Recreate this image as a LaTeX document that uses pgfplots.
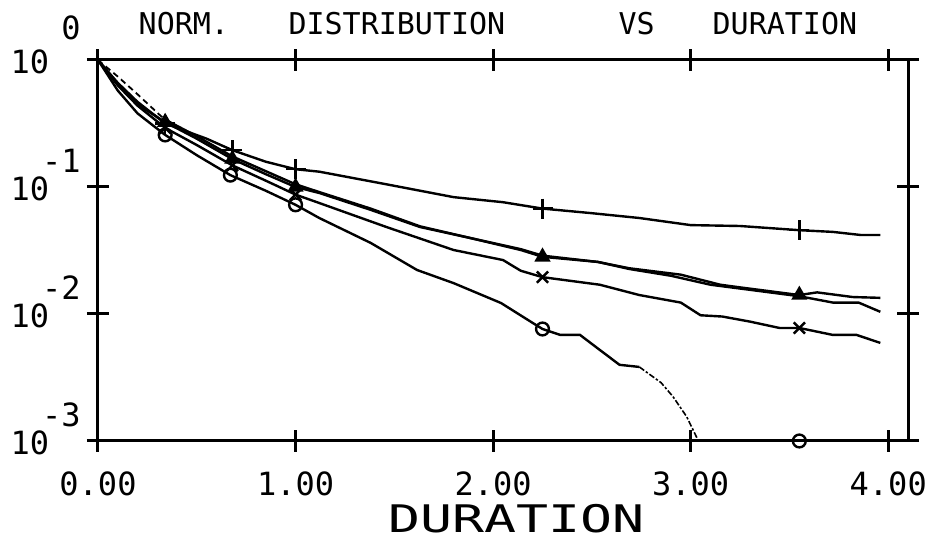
\documentclass[border=0pt]{standalone}
\usepackage{pgfplots}
\pgfplotsset{compat=1.18}
\usepackage{fontspec}
\setmainfont{DejaVu Sans Mono}
\newcommand\ylab[2][14pt]{\makebox[35pt][l]{10}\llap{\raisebox{#1}{#2}}}
\begin{document}
\begin{tikzpicture}
\begin{axis}[
  scale only axis, width=405pt, height=190.5pt,
  xmin=0, xmax=4.1, ymin=1e-3, ymax=1, ymode=log,
  axis line style={line width=1.5pt},
  clip mode=individual,
  tick align=center,
  major tick length=11pt,
  every tick/.style={black, line width=1.5pt},
  xtick={0,1,2,3,4}, xticklabels={0.00,1.00,2.00,3.00,4.00},
  ytick={1e-3,1e-2,1e-1,1},
  yticklabels={\ylab{-3},\ylab{-2},\ylab{-1},\ylab[17pt]{0}},
  yminorticks=false, xminorticks=false,
  xtick pos=both, ytick pos=both,
  xticklabel pos=lower, yticklabel pos=left,
  tick label style={font=\fontsize{16}{16}\selectfont},
  xticklabel style={anchor=base, inner sep=0pt, yshift=-22pt},
  yticklabel style={anchor=base east, inner sep=0pt, xshift=-3pt, yshift=-7pt},
  every axis plot/.append style={black, line width=1.2pt},
]
% + curve
\addplot[no marks] coordinates {(0,1)(0.1,0.661)(0.2,0.468)(0.34,0.316)(0.55,0.240)(0.68,0.195)(0.85,0.158)(1.0,0.138)(1.12,0.132)(1.46,0.105)(1.80,0.0832)(2.05,0.0759)(2.25,0.0676)(2.49,0.0624)(2.74,0.0570)(3.0,0.0501)(3.25,0.0493)(3.55,0.0457)(3.72,0.0443)(3.86,0.0419)(3.96,0.0419)};
\addplot[only marks, mark=+, mark size=5pt] coordinates {(0.34,0.316)(0.68,0.195)(1.0,0.138)(2.25,0.0676)(3.55,0.0457)};
% triangle curve
\addplot[no marks] coordinates {(0,1)(0.1,0.646)(0.2,0.447)(0.34,0.324)(0.5,0.240)(0.68,0.166)(0.85,0.126)(1.0,0.100)(1.12,0.0897)(1.38,0.0661)(1.63,0.0484)(1.88,0.0398)(2.14,0.0319)(2.25,0.0282)(2.53,0.0257)(2.69,0.0229)(2.95,0.0204)(3.15,0.0170)(3.25,0.0162)(3.55,0.0141)(3.64,0.0148)(3.82,0.0136)(3.96,0.0134)};
\addplot[only marks, mark=triangle*, mark size=3.5pt] coordinates {(0.34,0.324)(0.68,0.166)(1.0,0.100)(2.25,0.0282)(3.55,0.0141)};
% unmarked curve
\addplot[no marks, densely dashed, line width=0.9pt] coordinates {(0,1)(0.1,0.741)(0.2,0.537)(0.31,0.372)(0.34,0.339)};
\addplot[no marks] coordinates {(0.34,0.339)(0.5,0.251)(0.68,0.174)(1.0,0.105)(1.12,0.0912)(1.38,0.0676)(1.63,0.0490)(1.88,0.0398)(2.14,0.0324)(2.25,0.0288)(2.53,0.0257)(2.69,0.0226)(2.9,0.0200)(3.1,0.0170)(3.3,0.0155)(3.55,0.0138)(3.72,0.0123)(3.85,0.0123)(3.96,0.0104)};
% x curve
\addplot[no marks] coordinates {(0,1)(0.1,0.631)(0.2,0.437)(0.34,0.292)(0.5,0.214)(0.68,0.148)(0.85,0.112)(1.0,0.0871)(1.12,0.0748)(1.46,0.0484)(1.80,0.0319)(2.05,0.0266)(2.14,0.0219)(2.25,0.0195)(2.54,0.0170)(2.74,0.0141)(2.95,0.0123)(3.05,0.00977)(3.16,0.00955)(3.30,0.00871)(3.45,0.00776)(3.55,0.00776)(3.72,0.00684)(3.84,0.00684)(3.96,0.00592)};
\addplot[only marks, mark=x, mark size=4pt] coordinates {(0.34,0.292)(0.68,0.148)(1.0,0.0871)(2.25,0.0195)(3.55,0.00776)};
% circle curve
\addplot[no marks] coordinates {(0,1)(0.1,0.575)(0.2,0.380)(0.34,0.257)(0.5,0.178)(0.67,0.124)(0.85,0.0933)(1.0,0.0724)(1.12,0.0570)(1.38,0.0363)(1.615,0.0222)(1.80,0.0175)(2.04,0.0122)(2.20,0.00851)(2.25,0.00762)(2.34,0.00684)(2.44,0.00684)(2.54,0.00521)(2.64,0.00398)(2.74,0.00383)};
\addplot[no marks, densely dash dot, line width=0.8pt] coordinates {(2.74,0.00383)(2.85,0.00288)(2.91,0.00224)(2.98,0.00155)(3.03,0.00107)(3.05,0.00089)};
\addplot[only marks, mark=o, mark size=3.2pt] coordinates {(0.34,0.257)(0.67,0.124)(1.0,0.0724)(2.25,0.00762)(3.55,0.001)};
% title
\node[anchor=base, font=\fontsize{15}{15}\selectfont] at (rel axis cs:0.106,1) [yshift=12.5pt] {NORM.};
\node[anchor=base, font=\fontsize{15}{15}\selectfont] at (rel axis cs:0.369,1) [yshift=12.5pt] {DISTRIBUTION};
\node[anchor=base, font=\fontsize{15}{15}\selectfont] at (rel axis cs:0.665,1) [yshift=12.5pt] {VS};
\node[anchor=base, font=\fontsize{15}{15}\selectfont] at (rel axis cs:0.848,1) [yshift=12.5pt] {DURATION};
\node[anchor=base, font=\fontsize{19}{19}\selectfont] at (rel axis cs:0.517,0) [yshift=-46pt] {\scalebox{1.4}[1]{DURATION}};
\end{axis}
\begin{axis}[
  scale only axis, width=405pt, height=190.5pt,
  xmin=0, xmax=4.1, ymin=1e-3, ymax=1, ymode=log,
  axis line style={draw=none},
  tick align=outside,
  minor tick length=4pt,
  every tick/.style={black, line width=1.2pt},
  xtick=\empty, ytick=\empty,
  minor xtick={0.2,0.4,0.6,0.8,1.2,1.4,1.6,1.8,2.2,2.4,2.6,2.8,3.2,3.4,3.6,3.8},
  minor ytick={2e-3,4e-3,6e-3,8e-3,2e-2,4e-2,6e-2,8e-2,2e-1,4e-1,6e-1,8e-1},
  xtick pos=both, ytick pos=left,
]
\end{axis}
\pgfresetboundingbox
\path ([shift={(-49pt,-50pt)}]current axis.south west) rectangle ([shift={(16pt,30pt)}]current axis.north east);
\end{tikzpicture}
\end{document}
